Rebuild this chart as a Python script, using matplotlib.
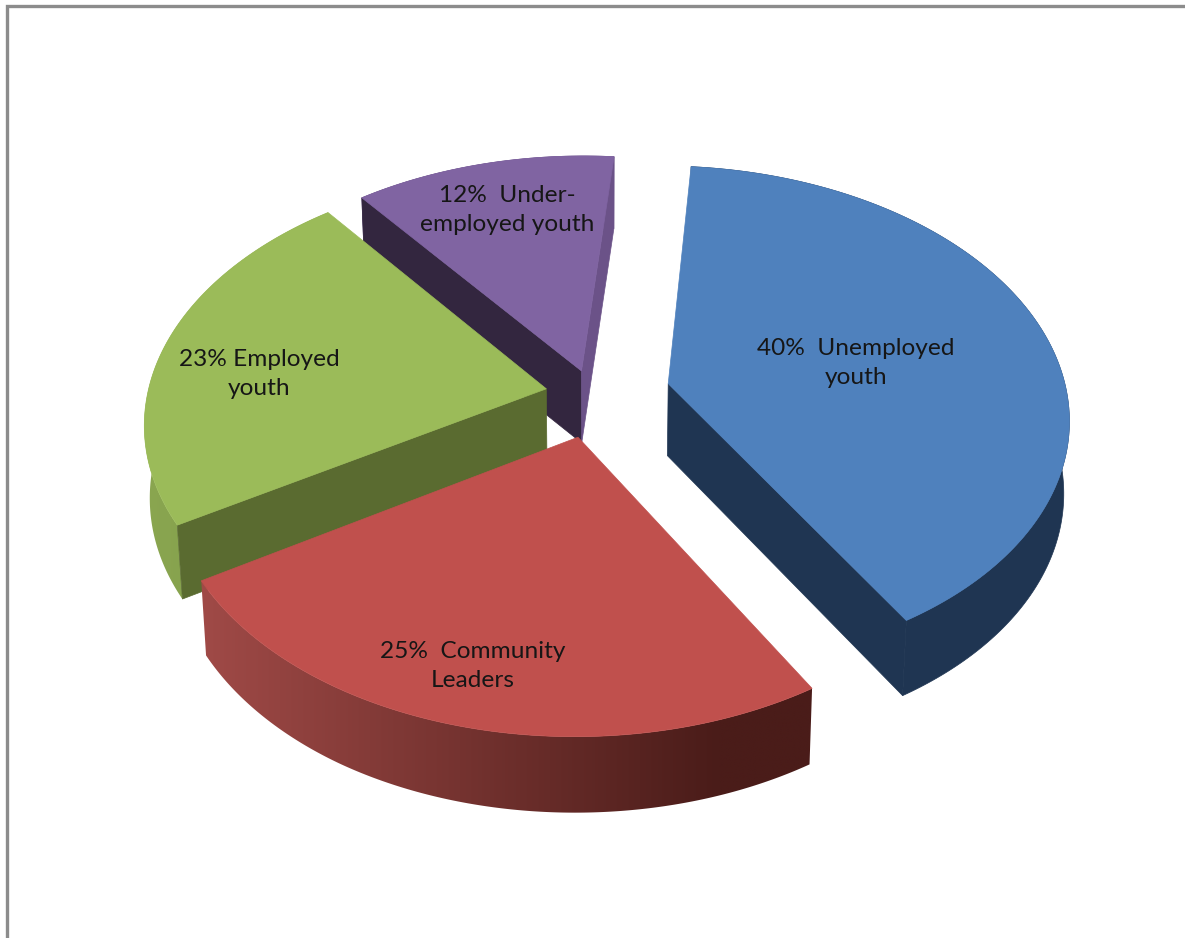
import numpy as np
import matplotlib
matplotlib.use("Agg")
import matplotlib.pyplot as plt
from matplotlib.patches import Polygon
from matplotlib.colors import to_rgb

# Survey composition
categories = ["Unemployed youth", "Community Leaders", "Employed youth", "Under-employed youth"]
shares = [40, 25, 23, 12]
labels = ["40%  Unemployed\nyouth", "25%  Community\nLeaders", "23% Employed\nyouth", "12%  Under-\nemployed youth"]

# How far each slice is pulled out of the disc, in disc units (sideways, towards the viewer)
pull_x = [0.172, -0.054, -0.135, -0.047]
pull_y = [-0.066, 0.146, -0.045, -0.118]

top_colors = ["#4F81BD", "#C0504D", "#9BBB59", "#8064A2"]
arc_left = ["#1F3552", "#A04A47", "#8AA650", "#6B5288"]
arc_right = ["#1F3552", "#4A1C19", "#7F9A4A", "#6B5288"]
wall_start = ["#1F3552", "#4A1C19", "#5A6B30", "#33263F"]
wall_end = ["#1F3552", "#A04A47", "#5A6B30", "#6B5288"]
label_pos = [(856, 363), (473, 666), (259, 374), (507, 210)]

# Camera parameters in pixel space
CX, CY = 600, 400
RX, RY = 400, 250
PERSP = 0.13
DEPTH = 72
START = 5.0


def project(x, y, lower=False):
    """Map disc coordinates (y towards the viewer) to the screen."""
    w = 1 - PERSP * y
    sx = CX + RX * x / w
    sy = CY + RY * y / w
    if lower:
        sx = CX + (sx - CX) * 0.988
        sy = sy + DEPTH + 4 * np.clip(y, 0, 1)
    return sx, sy


def ring(angles, off, lower=False):
    rad = np.radians(angles)
    return project(off[0] + np.sin(rad), off[1] - np.cos(rad), lower)


fig = plt.figure(figsize=(11.85, 9.38), dpi=100)
ax = fig.add_axes([0, 0, 1, 1])

# Frame of the chart area: only the top and left edges are in view
ax.plot([7, 7, 1185], [938, 6, 6], color="#8C8C8C", lw=2.4, solid_joinstyle="miter")

edges = START + np.concatenate([[0], np.cumsum(shares)]) * 3.6

# Painter's order: rear slices first, front slice last
for i in (3, 2, 0, 1):
    off = (pull_x[i], pull_y[i])
    ang = np.linspace(edges[i], edges[i + 1], 200)
    tx, ty = ring(ang, off)
    bx, by = ring(ang, off, lower=True)
    apex_t = project(*off)
    apex_b = project(*off, lower=True)

    # Curved outer side, shaded across the screen where the two end colours differ
    side = np.column_stack([np.r_[tx, bx[::-1]], np.r_[ty, by[::-1]]])
    if arc_left[i] == arc_right[i]:
        ax.fill(side[:, 0], side[:, 1], color=arc_left[i], lw=0.5, zorder=2)
    else:
        x0, x1 = side[:, 0].min(), side[:, 0].max()
        ramp = np.clip(np.linspace(0, 1.18, 600), 0, 1)[:, None]
        grad = np.array(to_rgb(arc_left[i])) * (1 - ramp) + np.array(to_rgb(arc_right[i])) * ramp
        img = ax.imshow(grad[None, :, :], extent=(x0, x1, side[:, 1].max(), side[:, 1].min()),
                        aspect="auto", interpolation="bilinear", zorder=2)
        img.set_clip_path(Polygon(side, closed=True, transform=ax.transData))

    # Radial walls, only those turned towards the viewer
    start_faces = np.sin(np.radians(edges[i])) < 0
    end_faces = np.sin(np.radians(edges[i + 1])) > 0
    for k, col, faces in ((0, wall_start[i], start_faces), (-1, wall_end[i], end_faces)):
        if faces:
            wall = [apex_t, (tx[k], ty[k]), (bx[k], by[k]), apex_b]
            ax.fill(*zip(*wall), color=col, lw=0.5, zorder=2)

    # Top face
    ax.fill(np.r_[apex_t[0], tx], np.r_[apex_t[1], ty], color=top_colors[i], lw=0.5, zorder=2)

ax.set_xlim(0, 1185)
ax.set_ylim(938, 0)
ax.axis("off")

for text, (x, y) in zip(labels, label_pos):
    ax.text(x, y, text, ha="center", va="center", fontsize=17.6, family="Lato",
            color="#161616", linespacing=1.52, zorder=10)

fig.savefig("out.png", dpi=100, facecolor="white")
